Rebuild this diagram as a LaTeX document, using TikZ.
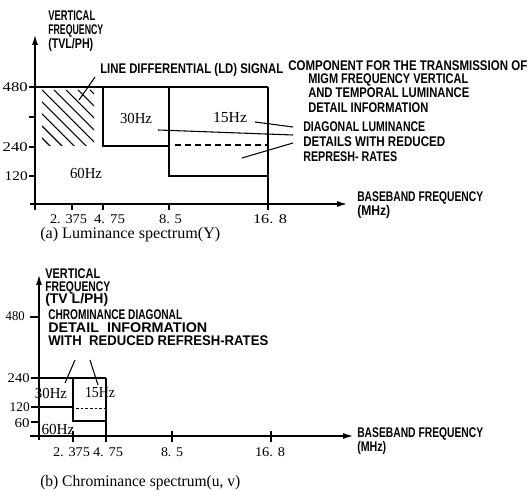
\documentclass[tikz,border=0pt]{standalone}
\usepackage{fontspec}
\usepackage{graphicx}
\setmainfont{Liberation Serif}
\newfontfamily\labfont{Liberation Sans}
\usetikzlibrary{arrows.meta}
\newlength\pxu
\setlength\pxu{0.75pt}
\newcommand\fw[2]{\resizebox{#1\pxu}{\height}{#2}}
\tikzset{
  lab/.style={inner sep=0pt, anchor=base west, font=\labfont\bfseries\fontsize{10.5}{12}\selectfont},
  num/.style={inner sep=0pt, font=\fontsize{10}{12}\selectfont},
  hz/.style={inner sep=0pt, font=\fontsize{11.5}{13}\selectfont},
  capt/.style={inner sep=0pt, anchor=base west, font=\fontsize{12}{14}\selectfont},
  ax/.style={line width=0.9pt},
  arr/.style={ax, -{Latex[length=7.5pt,width=4.5pt]}},
  lead/.style={line width=0.8pt},
  dashline/.style={line width=0.9pt, dash pattern=on 4.5pt off 3pt},
  dotline/.style={line width=0.6pt, dash pattern=on 2pt off 1.5pt}
}
\begin{document}
\begin{tikzpicture}[x=0.75pt,y=-0.75pt]
\useasboundingbox (0,0) rectangle (528,491);
% ================= TOP CHART =================
\coordinate (ya0) at (35,206);
\coordinate (yaT) at (35,35);
\coordinate (xa0) at (30,204);
\coordinate (xaT) at (347,204);
\draw[arr] (ya0) -- (yaT);
\draw[arr] (xa0) -- (xaT);
% y ticks
\foreach \yy in {87,117,147,176} \draw[ax] (29,\yy) -- (35,\yy);
% x ticks
\foreach \xx in {35,72,103,169,268} \draw[ax] (\xx,204) -- (\xx,210);
% boxes
\draw[ax] (35,87) -- (268,87);
\draw[ax] (103,87) -- (103,146) -- (169,146);
\draw[ax] (169,87) -- (169,176) -- (268,176);
\draw[ax] (268,87) -- (268,210);
\draw[dashline] (175,145) -- (268,145);
% hatching
\begin{scope}
\clip (42,90) rectangle (94,146);
\foreach \k in {-60,-48,...,60} \draw[line width=0.8pt] (42+\k,90) -- ++(60,60);
\end{scope}
% labels
\node[lab] (tv1) at (48,21) {\fw{47}{VERTICAL}};
\node[lab] (tv2) at (48,35) {\fw{55}{FREQUENCY}};
\node[lab] (tv3) at (48,49) {\fw{45}{(TVL/PH)}};
\node[lab] (ld1a) at (100,74) {\fw{183}{LINE DIFFERENTIAL (LD) SIGNAL}};
\node[lab] (ld1b) at (288,71) {\fw{239}{COMPONENT FOR THE TRANSMISSION OF}};
\node[lab] (ld2) at (308,84) {\fw{160}{MIGM FREQUENCY VERTICAL}};
\node[lab] (ld3) at (308,98) {\fw{161}{AND TEMPORAL LUMINANCE}};
\node[lab] (ld4) at (308,113) {\fw{120}{DETAIL INFORMATION}};
\node[lab] (dg1) at (303,132) {\fw{122}{DIAGONAL LUMINANCE}};
\node[lab] (dg2) at (303,147) {\fw{142}{DETAILS WITH REDUCED}};
\node[lab] (dg3) at (303,162) {\fw{94}{REPRESH- RATES}};
\node[lab] (bb1) at (357,202) {\fw{126}{BASEBAND FREQUENCY}};
\node[lab] (bb2) at (357,216) {\fw{33}{(MHz)}};
% numbers
\node[num,anchor=east] (y480) at (28,87) {\fw{25}{480}};
\node[num,anchor=east] (y240) at (28,147) {\fw{25}{240}};
\node[num,anchor=east] (y120) at (28,176) {\fw{23}{120}};
\node[num] (x1) at (68.5,219) {\fw{37}{2. 375}};
\node[num] (x2) at (109.5,219) {\fw{31}{4. 75}};
\node[num] (x3) at (170.5,219) {\fw{23}{8. 5}};
\node[num] (x4) at (270,219) {\fw{34}{16. 8}};
\node[hz] (h30) at (136,118) {\fw{32}{30Hz}};
\node[hz] (h15) at (230,118) {\fw{34}{15Hz}};
\node[hz] (h60) at (86,173) {\fw{32}{60Hz}};
\node[capt] (capa) at (40,239) {\fw{180}{(a) Luminance spectrum(Y)}};
% leaders
\coordinate (lda) at (95,77); \coordinate (ldb) at (79,100);
\draw[lead] (lda) -- (ldb);
\coordinate (l1a) at (255,122); \coordinate (l1b) at (293,127);
\coordinate (l2a) at (158,130); \coordinate (l2b) at (293,135);
\coordinate (l3a) at (242,158); \coordinate (l3b) at (293,143);
\draw[lead] (l1a) -- (l1b);
\draw[lead] (l2a) -- (l2b);
\draw[lead] (l3a) -- (l3b);
% ================= BOTTOM CHART =================
\coordinate (yb0) at (39,440);
\coordinate (ybT) at (39,275);
\coordinate (xb0) at (30,436);
\coordinate (xbT) at (353,436);
\draw[arr] (yb0) -- (ybT);
\draw[arr] (xb0) -- (xbT);
\draw[ax] (30,317) -- (39,317);
\draw[ax] (31,378) -- (39,378);
\draw[ax] (31,407) -- (39,407);
\draw[ax] (31,422) -- (39,422);
\foreach \xx in {73,106,172,271} \draw[ax] (\xx,431) -- (\xx,442);
\draw[ax] (39,378) -- (106,378);
\draw[ax] (73,378) -- (73,421) -- (106,421);
\draw[ax] (106,378) -- (106,442);
\draw[ax] (39,407) -- (73,407);
\draw[dotline] (76,408) -- (105,408);
\node[lab] (bv1) at (45,279) {\fw{55}{VERTICAL}};
\node[lab] (bv2) at (45,292) {\fw{65}{FREQUENCY}};
\node[lab] (bv3) at (45,304) {\fw{63}{(TV L/PH)}};
\node[lab] (cd1) at (48,320) {\fw{134}{CHROMINANCE DIAGONAL}};
\node[lab] (cd2) at (48,333) {\fw{159}{DETAIL\ \ INFORMATION}};
\node[lab] (cd3) at (48,346) {\fw{220}{WITH\ \ REDUCED REFRESH-RATES}};
\node[lab] (bbb1) at (357,437) {\fw{126}{BASEBAND FREQUENCY}};
\node[lab] (bbb2) at (357,451) {\fw{29}{(MHz)}};
\node[num,anchor=east] (b480) at (25,316) {\fw{19}{480}};
\node[num,anchor=east] (b240) at (30,378) {\fw{22}{240}};
\node[num,anchor=east] (b120) at (30,407) {\fw{20}{120}};
\node[num,anchor=east] (b60) at (30,423) {\fw{15}{60}};
\node[num] (bx1) at (71.5,452) {\fw{37}{2. 375}};
\node[num] (bx2) at (108,452) {\fw{30}{4. 75}};
\node[num] (bx3) at (172,452) {\fw{22}{8. 5}};
\node[num] (bx4) at (270,452) {\fw{30}{16. 8}};
\node[hz] (bh30) at (51,393) {\fw{32}{30Hz}};
\node[hz] (bh15) at (100,393) {\fw{30}{15Hz}};
\node[hz] (bh60) at (58,429) {\fw{33}{60Hz}};
\node[capt] (capb) at (40,486) {\fw{200}{(b) Chrominance spectrum(u, v)}};
\coordinate (c1a) at (75,360); \coordinate (c1b) at (65,383);
\coordinate (c2a) at (90,360); \coordinate (c2b) at (98,385);
\draw[lead] (c1a) -- (c1b);
\draw[lead] (c2a) -- (c2b);
\end{tikzpicture}
\end{document}
